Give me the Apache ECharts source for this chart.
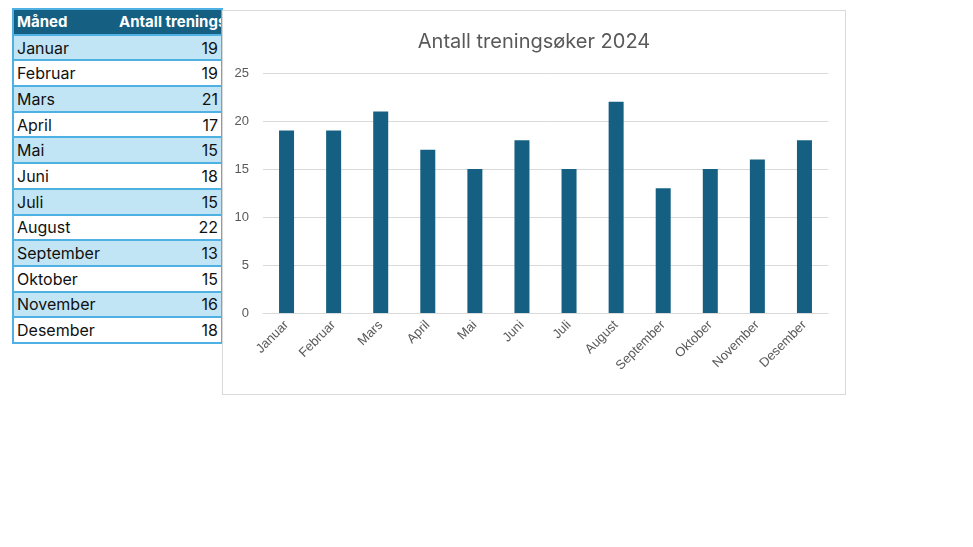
<!DOCTYPE html>
<html>
<head>
<meta charset="utf-8">
<script src="https://cdn.jsdelivr.net/npm/echarts@6/dist/echarts.min.js"></script>
<style>
  body { margin: 0; background: #fff; font-family: Inter, "Noto Sans", sans-serif; }
  .tbl {
    position: absolute; left: 12px; top: 8px;
    border-collapse: collapse; table-layout: fixed; width: 209px;
    font-size: 16px; color: #111;
    border: 2px solid #4fb0e3;
  }
  .tbl td, .tbl th {
    border-top: 2px solid #4fb0e3; border-bottom: 2px solid #4fb0e3;
    height: 23.7px; padding: 0 3px;
    white-space: nowrap; overflow: hidden;
  }
  .tbl th { background: #156082; color: #fff; font-weight: 700; text-align: left; font-size: 15px; }
  .tbl td.num { text-align: right; }
  .tbl tr.odd td { background: #c1e5f5; }
  .tbl tr.even td { background: #fff; }
  .chart-box {
    position: absolute; left: 222px; top: 10px; width: 622px; height: 383px;
    border: 1px solid #d9d9d9; background: #fff;
  }
  #chart { width: 100%; height: 100%; }
</style>
</head>
<body>
<table class="tbl" id="tbl"></table>
<div class="chart-box"><div id="chart"></div></div>
<script>
  const months = ['Januar', 'Februar', 'Mars', 'April', 'Mai', 'Juni', 'Juli', 'August', 'September', 'Oktober', 'November', 'Desember']
  const sessions = [19, 19, 21, 17, 15, 18, 15, 22, 13, 15, 16, 18]
  const headers = ['Måned', 'Antall treningsøker']
  const yTicks = [0, 5, 10, 15, 20, 25]

  // tabellen til venstre
  let html = '<colgroup><col style="width:100px"><col style="width:109px"></colgroup>'
  html += '<tr><th>' + headers[0] + '</th><th style="padding-left:6px">' + headers[1] + '</th></tr>'
  months.forEach((m, i) => {
    html += '<tr class="' + (i % 2 === 0 ? 'odd' : 'even') + '"><td>' + m + '</td><td class="num">' + sessions[i] + '</td></tr>'
  })
  document.getElementById('tbl').innerHTML = html

  const chart = echarts.init(document.getElementById('chart'))
  const option = {
    animation: false,
    title: {
      text: 'Antall treningsøker 2024',
      left: 'center',
      top: 16,
      textStyle: { color: '#595959', fontSize: 20, fontWeight: 'normal', fontFamily: 'Inter, "Noto Sans", sans-serif' }
    },
    grid: { left: 40, right: 17, top: 62, bottom: 81 },
    xAxis: {
      type: 'category',
      data: months,
      axisTick: { show: false },
      axisLine: { lineStyle: { color: '#d9d9d9', width: 1 } },
      axisLabel: { rotate: 45, color: '#595959', fontSize: 13, margin: 10, interval: 0 }
    },
    yAxis: {
      type: 'value',
      min: yTicks[0],
      max: yTicks[yTicks.length - 1],
      interval: 5,
      axisLabel: { color: '#595959', fontSize: 13, margin: 14 },
      splitLine: { lineStyle: { color: '#d9d9d9' } }
    },
    series: [{
      type: 'bar',
      data: sessions,
      barWidth: 15,
      itemStyle: { color: '#156082' }
    }]
  }
  chart.setOption(option)
</script>
</body>
</html>
